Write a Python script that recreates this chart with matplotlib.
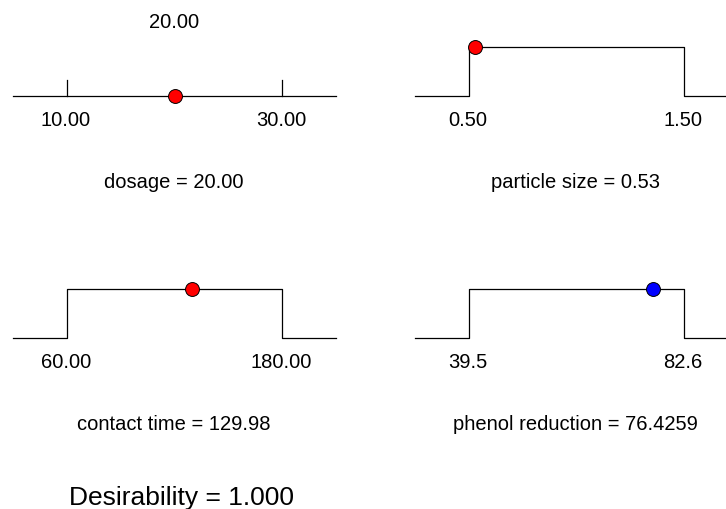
import matplotlib
matplotlib.use('Agg')
import matplotlib.pyplot as plt

plt.rcParams['font.family'] = ['Liberation Sans', 'DejaVu Sans']

# factor panels: name, low, high, current value, label strings
names = ['dosage', 'particle size', 'contact time', 'phenol reduction']
lows = [10.0, 0.5, 60.0, 39.5]
highs = [30.0, 1.5, 180.0, 82.6]
values = [20.00, 0.53, 129.98, 76.4259]
low_labels = ['10.00', '0.50', '60.00', '39.5']
high_labels = ['30.00', '1.50', '180.00', '82.6']
value_labels = ['20.00', '0.53', '129.98', '76.4259']
# dosage has no desirability ramp, the others are a box 0 -> 1 -> 0
has_box = [False, True, True, True]
dot_colors = ['red', 'red', 'red', 'blue']
desirability = '1.000'

W, H = 726, 510
fig = plt.figure(figsize=(W / 100, H / 100), dpi=100)

# pixel layout of each panel: left edge, baseline y, top y
lefts = [13, 415, 13, 415]
bases = [97, 97, 339, 339]
panel_w = 323
step_h = 49

for i in range(4):
    ax = fig.add_axes([lefts[i] / W, (H - bases[i]) / H, panel_w / W, step_h / H])
    lo, hi = lows[i], highs[i]
    pad = 0.25 * (hi - lo)
    ax.set_xlim(lo - pad, hi + pad)
    ax.set_ylim(0, 1)
    ax.axis('off')

    if has_box[i]:
        xs = [lo - pad, lo, lo, hi, hi, hi + pad]
        ys = [0, 0, 1, 1, 0, 0]
        ax.plot(xs, ys, color='black', lw=0.9, clip_on=False)
        dot_y = 1
    else:
        ax.plot([lo - pad, hi + pad], [0, 0], color='black', lw=0.9, clip_on=False)
        for t in (lo, hi):
            ax.plot([t, t], [0, 0.33], color='black', lw=0.9, clip_on=False)
        dot_y = 0
        ax.annotate(value_labels[i], xy=(values[i], 1), xytext=(0, 26),
                    textcoords='offset pixels', ha='center', va='center', fontsize=14.5)

    ax.plot([values[i]], [dot_y], 'o', ms=10, mfc=dot_colors[i], mec='black',
            mew=0.7, clip_on=False, zorder=5)

    ax.annotate(low_labels[i], xy=(lo, 0), xytext=(-1, -23), textcoords='offset pixels',
                ha='center', va='center', fontsize=14.5)
    ax.annotate(high_labels[i], xy=(hi, 0), xytext=(-1, -23), textcoords='offset pixels',
                ha='center', va='center', fontsize=14.5)
    ax.annotate(names[i] + ' = ' + value_labels[i], xy=(0.5, 0), xycoords='axes fraction',
                xytext=(-1, -86), textcoords='offset pixels',
                ha='center', va='center', fontsize=14.5)

fig.text(182 / W, 1 - 498 / H, 'Desirability = ' + desirability,
         ha='center', va='center', fontsize=19)

fig.savefig('out.png', dpi=100)
